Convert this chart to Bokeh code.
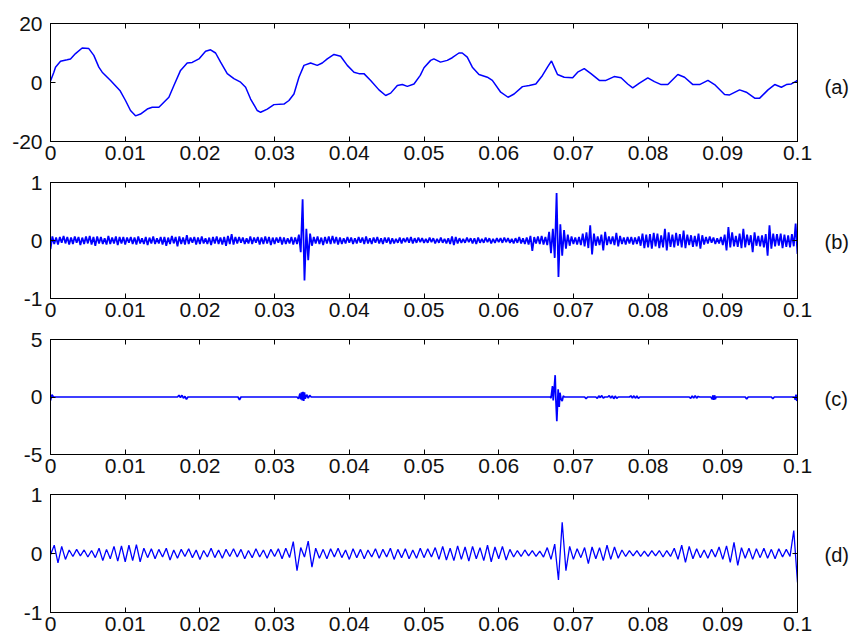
import numpy as np
from bokeh.plotting import figure
from bokeh.layouts import column
from bokeh.models import LinearAxis, FixedTicker, Range1d
from bokeh.embed import file_html
from bokeh.resources import INLINE

# ---- shared x axis -------------------------------------------------------
x_ticks = [0, 0.01, 0.02, 0.03, 0.04, 0.05, 0.06, 0.07, 0.08, 0.09, 0.1]
x_tick_labels = ["0", "0.01", "0.02", "0.03", "0.04", "0.05",
                 "0.06", "0.07", "0.08", "0.09", "0.1"]

# ---- (a) raw signal: sample times (ms) and values ------------------------
a_time_ms = [0.0, 0.45, 0.67, 1.34, 2.23, 2.68, 3.35, 4.24, 5.13, 5.80,
             6.47, 6.92, 8.04, 9.29, 10.04, 10.71, 11.38, 12.05, 12.95, 13.62,
             14.51, 15.18, 15.85, 16.52, 17.41, 18.30, 18.97, 19.87, 20.76, 21.43,
             22.10, 22.77, 23.66, 24.55, 25.45, 26.12, 26.79, 27.68, 28.13, 29.02,
             29.91, 31.25, 31.92, 32.59, 33.26, 33.93, 34.82, 35.71, 36.38, 37.05,
             37.95, 38.84, 39.73, 40.63, 41.29, 41.96, 42.86, 43.97, 44.87, 45.54,
             46.43, 47.10, 47.77, 48.66, 49.50, 50.00, 50.89, 51.32, 52.21, 53.11,
             53.78, 54.68, 55.12, 55.79, 56.47, 57.36, 58.48, 59.15, 60.27, 61.25,
             62.06, 63.18, 64.09, 64.97, 65.86, 66.53, 67.07, 67.43, 67.87, 68.77,
             69.90, 70.57, 71.45, 72.35, 73.47, 74.36, 75.46, 76.38, 77.27, 77.94,
             78.84, 79.96, 80.85, 81.75, 82.64, 83.98, 84.88, 86.00, 86.89, 88.01,
             88.90, 90.24, 90.91, 92.25, 93.15, 94.27, 94.94, 96.05, 96.95, 97.84,
             98.51, 99.18, 99.85, 100.0]
a_vals = [0.5, 3.5, 5.2, 7.2, 7.7, 8.0, 9.8, 11.7, 11.5, 9.2,
          5.2, 3.5, 0.7, -2.7, -6.1, -9.5, -11.3, -10.7, -9.0, -8.4,
          -8.4, -6.7, -5.0, -1.0, 4.1, 6.6, 6.8, 8.0, 10.6, 11.1,
          10.0, 6.9, 3.0, 1.3, 0.1, -1.6, -5.6, -9.5, -10.1, -9.0,
          -7.5, -7.3, -6.1, -3.9, 1.8, 5.8, 6.6, 5.8, 6.6, 8.0,
          9.5, 8.9, 5.8, 3.5, 3.0, 3.0, 0.7, -2.5, -4.4, -3.6,
          -1.0, -0.7, -1.3, -0.5, 2.4, 5.0, 7.5, 8.0, 6.9, 7.5,
          8.4, 10.0, 10.0, 8.6, 5.2, 2.7, 1.8, 0.7, -3.3, -5.0,
          -3.9, -1.4, -1.0, -0.5, 2.4, 5.2, 7.3, 5.2, 2.7, 1.8,
          1.6, 3.5, 4.7, 3.0, 0.7, 0.7, 2.0, 1.6, -0.5, -1.8,
          -0.2, 1.6, 0.3, -0.7, -0.7, 2.7, 1.8, -0.7, -0.7, 0.7,
          -0.7, -4.1, -4.2, -2.5, -3.3, -5.3, -5.3, -2.5, -0.7, -1.6,
          -0.7, -0.5, 0.5, 0.7]

# ---- (b) detail band: 401 samples evenly spread over 0 .. 0.1 s ----------
b_vals = [
    -0.15, 0.07, -0.06, 0.05, -0.07, 0.06, -0.04, 0.08, -0.05, 0.06, -0.07, 0.05, -0.06, 0.07, -0.04, 0.06, -0.08, 0.05, -0.06, 0.07,
    -0.05, 0.08, -0.07, 0.06, -0.09, 0.07, -0.05, 0.06, -0.06, 0.04, -0.07, 0.08, -0.06, 0.05, -0.05, 0.07, -0.08, 0.06, -0.05, 0.06,
    -0.07, 0.05, -0.04, 0.06, -0.06, 0.05, -0.07, 0.07, -0.05, 0.04, -0.06, 0.06, -0.08, 0.05, -0.05, 0.07, -0.06, 0.04, -0.05, 0.06,
    -0.07, 0.06, -0.09, 0.05, -0.06, 0.08, -0.05, 0.06, -0.10, 0.07, -0.06, 0.05, -0.07, 0.09, -0.06, 0.05, -0.04, 0.06, -0.07, 0.05,
    -0.06, 0.07, -0.05, 0.04, -0.06, 0.05, -0.08, 0.06, -0.05, 0.07, -0.06, 0.05, -0.07, 0.06, -0.09, 0.08, -0.06, 0.11, -0.07, 0.06,
    -0.05, 0.06, -0.04, 0.05, -0.06, 0.04, -0.05, 0.07, -0.06, 0.05, -0.04, 0.06, -0.07, 0.05, -0.06, 0.07, -0.05, 0.06, -0.08, 0.05,
    -0.06, 0.05, -0.04, 0.06, -0.07, 0.05, -0.06, 0.04, -0.05, 0.06, -0.07, 0.05, -0.06, 0.10, -0.20, 0.71, -0.69, 0.20, -0.34, 0.12,
    -0.09, 0.06, -0.05, 0.07, -0.06, 0.05, -0.08, 0.06, -0.05, 0.07, -0.06, 0.08, -0.05, 0.06, -0.07, 0.05, -0.06, 0.04, -0.05, 0.06,
    -0.04, 0.05, -0.06, 0.04, -0.05, 0.06, -0.04, 0.05, -0.06, 0.07, -0.05, 0.04, -0.06, 0.05, -0.04, 0.06, -0.05, 0.04, -0.06, 0.05,
    -0.04, 0.05, -0.06, 0.04, -0.05, 0.03, -0.04, 0.05, -0.05, 0.04, -0.03, 0.05, -0.04, 0.06, -0.05, 0.04, -0.04, 0.05, -0.03, 0.04,
    -0.04, 0.03, -0.04, 0.05, -0.03, 0.04, -0.05, 0.03, -0.04, 0.05, -0.04, 0.03, -0.05, 0.04, -0.06, 0.07, -0.08, 0.06, -0.05, 0.04,
    -0.04, 0.03, -0.04, 0.05, -0.03, 0.04, -0.05, 0.04, -0.06, 0.05, -0.04, 0.03, -0.04, 0.05, -0.03, 0.04, -0.05, 0.03, -0.04, 0.04,
    -0.03, 0.04, -0.04, 0.05, -0.03, 0.04, -0.04, 0.03, -0.05, 0.04, -0.04, 0.06, -0.05, 0.04, -0.06, 0.05, -0.07, 0.08, -0.18, 0.06,
    -0.05, 0.07, -0.06, 0.08, -0.07, 0.06, -0.08, 0.15, -0.22, 0.20, -0.30, 0.82, -0.63, 0.28, -0.26, 0.18, -0.14, 0.10, -0.09, 0.07,
    -0.06, 0.05, -0.07, 0.06, -0.08, 0.12, -0.10, 0.14, -0.13, 0.26, -0.24, 0.12, -0.09, 0.07, -0.08, 0.10, -0.17, 0.15, -0.08, 0.07,
    -0.06, 0.07, -0.08, 0.13, -0.10, 0.08, -0.06, 0.05, -0.07, 0.06, -0.05, 0.06, -0.07, 0.05, -0.06, 0.07, -0.09, 0.12, -0.13, 0.10,
    -0.12, 0.11, -0.14, 0.13, -0.10, 0.12, -0.13, 0.09, -0.12, 0.20, -0.17, 0.14, -0.11, 0.10, -0.12, 0.13, -0.09, 0.11, -0.12, 0.17,
    -0.13, 0.10, -0.08, 0.09, -0.11, 0.08, -0.10, 0.12, -0.14, 0.09, -0.07, 0.06, -0.05, 0.07, -0.04, 0.05, -0.06, 0.04, -0.05, 0.06,
    -0.08, 0.10, -0.17, 0.23, -0.12, 0.14, -0.10, 0.08, -0.11, 0.12, -0.13, 0.20, -0.12, 0.10, -0.08, 0.09, -0.20, 0.14, -0.09, 0.08,
    -0.10, 0.09, -0.12, 0.11, -0.26, 0.26, -0.14, 0.12, -0.10, 0.11, -0.09, 0.12, -0.13, 0.10, -0.11, 0.09, -0.12, 0.11, -0.10, 0.29,
    -0.23,
]

# ---- (c) sparse component: breakpoints (ms) and values -------------------
c_time_ms = [0.0, 0.2, 0.4,
             17.0, 17.2, 17.4, 17.6, 17.8, 18.0, 18.2, 18.4,
             25.1, 25.3, 25.5,
             33.0, 33.2, 33.4, 33.5, 33.6, 33.7, 33.8, 33.9, 34.0, 34.1, 34.3, 34.5, 34.7, 34.9,
             66.9, 67.0, 67.2, 67.3, 67.45, 67.56, 67.65, 67.78, 67.96, 68.1, 68.2, 68.35, 68.5, 68.65, 68.8,
             71.5, 71.7, 71.9,
             73.0, 73.2, 73.4, 73.6, 73.8, 74.0, 74.2,
             74.6, 74.8, 75.0, 75.2, 75.4, 75.6, 75.8, 76.0,
             77.5, 77.7, 77.9, 78.1, 78.3, 78.5, 78.7, 78.9,
             85.5, 85.7, 85.9, 86.1, 86.3, 86.5, 86.7, 86.9,
             88.4, 88.6, 88.7, 88.8, 88.9, 89.0, 89.1,
             93.0, 93.2, 93.4,
             96.5, 96.7, 96.9,
             99.6, 99.7, 99.8, 99.9, 100.0]
c_vals = [-0.3, 0.2, 0.0,
          0.0, 0.15, -0.05, 0.15, -0.1, 0.05, -0.2, 0.0,
          0.0, -0.25, 0.0,
          0.0, -0.15, 0.3, -0.2, 0.4, -0.3, 0.45, -0.35, 0.4, -0.15, 0.2, -0.1, 0.15, 0.0,
          0.0, -0.1, 0.95, -0.3, 0.9, 1.9, -0.2, -2.1, 0.66, -0.86, 0.37, -0.2, -0.35, 0.1, 0.0,
          0.0, -0.15, 0.0,
          0.0, -0.12, 0.1, -0.05, 0.12, -0.1, 0.0,
          0.0, 0.12, -0.1, 0.1, -0.15, 0.08, -0.12, 0.0,
          0.0, 0.1, -0.08, 0.1, -0.1, 0.08, -0.12, 0.0,
          0.0, -0.12, 0.1, -0.1, 0.12, -0.1, 0.05, 0.0,
          0.0, -0.2, 0.15, -0.25, 0.15, -0.2, 0.0,
          0.0, -0.18, 0.0,
          0.0, -0.15, 0.0,
          0.0, -0.25, 0.2, -0.35, 0.15]

# ---- (d) oscillating component: 201 samples over 0 .. 0.1 s -------------
d_vals = [
    -0.02, 0.14, -0.16, 0.12, -0.10, 0.06, -0.05, 0.07, -0.04, 0.06, -0.06, 0.05, -0.07, 0.09, -0.12, 0.07, -0.09, 0.12, -0.13, 0.13,
    -0.14, 0.14, -0.12, 0.15, -0.14, 0.09, -0.07, 0.08, -0.09, 0.07, -0.06, 0.09, -0.11, 0.06, -0.08, 0.07, -0.05, 0.08, -0.07, 0.06,
    -0.10, 0.05, -0.06, 0.09, -0.07, 0.06, -0.08, 0.07, -0.05, 0.08, -0.06, 0.07, -0.09, 0.05, -0.07, 0.08, -0.06, 0.06, -0.08, 0.07,
    -0.05, 0.08, -0.09, 0.09, -0.07, 0.20, -0.29, 0.10, -0.06, 0.21, -0.23, 0.09, -0.08, 0.07, -0.09, 0.08, -0.06, 0.09, -0.07, 0.06,
    -0.10, 0.08, -0.07, 0.07, -0.09, 0.06, -0.06, 0.08, -0.08, 0.07, -0.06, 0.09, -0.10, 0.07, -0.07, 0.08, -0.09, 0.06, -0.08, 0.09,
    -0.07, 0.08, -0.06, 0.10, -0.10, 0.12, -0.11, 0.09, -0.12, 0.13, -0.10, 0.11, -0.13, 0.12, -0.09, 0.10, -0.12, 0.14, -0.14, 0.11,
    -0.09, 0.12, -0.11, 0.07, -0.06, 0.05, -0.05, 0.06, -0.04, 0.05, -0.05, 0.04, -0.06, 0.10, -0.10, 0.16, -0.45, 0.53, -0.29, 0.12,
    -0.10, 0.08, -0.07, 0.10, -0.17, 0.11, -0.09, 0.10, -0.12, 0.14, -0.10, 0.11, -0.08, 0.06, -0.05, 0.05, -0.04, 0.05, -0.05, 0.04,
    -0.05, 0.05, -0.04, 0.05, -0.06, 0.05, -0.05, 0.09, -0.10, 0.14, -0.15, 0.12, -0.09, 0.08, -0.07, 0.06, -0.08, 0.07, -0.06, 0.11,
    -0.10, 0.13, -0.15, 0.19, -0.20, 0.10, -0.08, 0.09, -0.10, 0.08, -0.07, 0.09, -0.08, 0.07, -0.09, 0.08, -0.06, 0.07, -0.05, 0.39,
    -0.49,
]

FONT = "Liberation Sans"
TICK_SIZE = "21px"
TAG_SIZE = "20px"
INK = "#111111"
BLUE = "#0000ff"


def style_axis(axis, ticks, overrides, standoff, font_size, tick_len=5):
    axis.ticker = FixedTicker(ticks=ticks)
    axis.major_label_overrides = overrides
    axis.major_tick_in = tick_len
    axis.major_tick_out = 0
    axis.minor_tick_in = 0
    axis.minor_tick_out = 0
    axis.axis_line_color = "black"
    axis.major_tick_line_color = "black"
    axis.major_label_standoff = standoff
    axis.major_label_text_font = FONT
    axis.major_label_text_color = INK
    axis.major_label_text_font_size = font_size


def panel(x, y, ylim, yticks, tag, tag_y, top, frame_h, bottom, lw):
    p = figure(width=851, height=top + frame_h + bottom,
               x_range=Range1d(0, 0.1), y_range=Range1d(*ylim),
               output_backend="svg", toolbar_location=None,
               min_border_left=50, min_border_right=54,
               min_border_top=top, min_border_bottom=bottom)
    p.grid.visible = False
    p.outline_line_color = "black"
    p.outline_line_width = 1
    p.background_fill_color = "white"
    p.border_fill_color = "white"

    style_axis(p.xaxis[0], x_ticks, dict(zip(x_ticks, x_tick_labels)), 4, TICK_SIZE)
    style_axis(p.yaxis[0], yticks, {v: str(v) for v in yticks}, 8, TICK_SIZE)

    # inward ticks on the top and right edges of the box
    top_ax = LinearAxis()
    style_axis(top_ax, x_ticks, {v: "" for v in x_ticks}, 0, "1px")
    p.add_layout(top_ax, "above")
    right_ax = LinearAxis()
    style_axis(right_ax, yticks, {v: "" for v in yticks}, 0, "1px")
    p.add_layout(right_ax, "right")

    # panel tag to the right of the box
    tag_ax = LinearAxis()
    style_axis(tag_ax, [tag_y], {tag_y: tag}, 27, TAG_SIZE, tick_len=0)
    tag_ax.axis_line_color = None
    tag_ax.major_tick_line_color = None
    p.add_layout(tag_ax, "right")

    p.line(x, y, line_color=BLUE, line_width=lw)
    return p


a_t = np.array(a_time_ms) / 1000.0
b_t = np.linspace(0, 0.1, len(b_vals))
c_t = np.array(c_time_ms) / 1000.0
d_t = np.linspace(0, 0.1, len(d_vals))

p1 = panel(a_t, a_vals, (-20, 20), [-20, 0, 20], "(a)", -1.4, 23, 118, 28, 1.5)
p2 = panel(b_t, b_vals, (-1, 1), [-1, 0, 1], "(b)", -0.02, 13, 116, 28, 1.8)
p3 = panel(c_t, c_vals, (-5, 5), [-5, 0, 5], "(c)", -0.2, 13, 115, 28, 1.7)
p4 = panel(d_t, d_vals, (-1, 1), [-1, 0, 1], "(d)", -0.02, 12, 118, 33, 1.3)

layout = column(p1, p2, p3, p4, spacing=0)

with open("out.html", "w") as f:
    f.write(file_html(layout, INLINE))
